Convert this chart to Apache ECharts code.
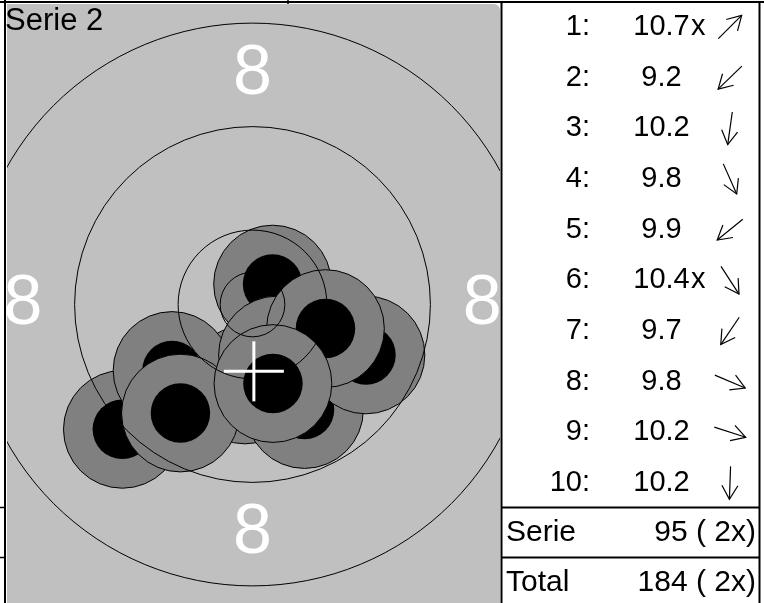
<!DOCTYPE html>
<html><head><meta charset="utf-8">
<script src="https://cdn.jsdelivr.net/npm/echarts@6/dist/echarts.min.js"></script>
<style>html,body{margin:0;padding:0;background:#fff;}#c{width:764px;height:603px;}</style>
</head><body><div id="c"></div>
<script>
// ---------- data ----------
const seriesTitle = 'Serie 2';
const shotNo = [1, 2, 3, 4, 5, 6, 7, 8, 9, 10];
const shotScore = ['10.7', '9.2', '10.2', '9.8', '9.9', '10.4', '9.7', '9.8', '10.2', '10.2'];
const shotInnerTen = [true, false, false, false, false, true, false, false, false, false];
// shot centres in mm from the target centre (x right, y up)
const shotX = [1.55, -10.06, -0.58, 4.02, -6.22, 1.93, -5.57, 8.77, 5.64, 1.58];
const shotY = [1.58, -9.65, -6.22, -8.12, -5.10, -3.90, -8.39, -3.90, -1.86, -6.11];
// direction arrows in the list (degrees, screen: 0 = right, 90 = down)
const arrowDeg = [-45, 136, 98, 66, 141, 57, 124, 23, 18, 92];
// ring radii in mm: 8 ring, 9 ring, 10 ring, inner ten
const ringRadius = [21.75, 13.75, 5.75, 2.5];
const ringLabel = ['8', '8', '8', '8'];
const ringLabelAngle = [90, 0, 180, 270];
const ringLabelRadius = 17.75;
const summaryLabel = ['Serie', 'Total'];
const summaryValue = ['95 ( 2x)', '184 ( 2x)'];
const pelletRadius = 2.3;
const shotRadius = 4.55;

// ---------- layout ----------
const PX = 12.9375;               // px per mm
const CX = 252.5, CY = 304.5;     // target centre in px
const G = {left: 7, top: 4, width: 493, height: 599};
const xMin = (G.left - CX) / PX, xMax = (G.left + G.width - CX) / PX;
const yMax = (CY - G.top) / PX, yMin = (CY - G.top - G.height) / PX;
const FONT = '"Liberation Sans", Arial, sans-serif';

const meanX = shotX.reduce((a, b) => a + b, 0) / shotX.length;
const meanY = shotY.reduce((a, b) => a + b, 0) / shotY.length;

const graphics = [];
// grey target panel
graphics.push({type: 'rect', z: -10, shape: {x: G.left, y: G.top, width: G.width, height: G.height, r: [0, 6, 0, 0]}, style: {fill: '#c0c0c0'}});
// page lines
function line(x1, y1, x2, y2, w) {
  graphics.push({type: 'line', z: 50, shape: {x1, y1, x2, y2}, style: {stroke: '#000', lineWidth: w || 2}});
}
line(0, 2, 764, 2, 2);
line(5, 0, 5, 603, 2);
line(0, 507.5, 5, 507.5, 1.5);
line(0, 557.5, 5, 557.5, 1.5);
line(288, 0, 288, 4, 1.5);
// table borders
line(501.5, 2, 501.5, 603, 2);
line(759.5, 2, 759.5, 603, 2);
line(501, 507.5, 760, 507.5, 2);
line(501, 557.5, 760, 557.5, 2);

function text(str, x, y, align, size, color) {
  graphics.push({type: 'text', z: 60, x, y, style: {text: str, fill: color || '#000', font: (size || 29) + 'px ' + FONT, align: align, verticalAlign: 'middle'}});
}
text(seriesTitle, 5, 21, 'left', 31);

const row0 = 27, rowH = 50.65;
shotNo.forEach((n, i) => {
  const y = row0 + i * rowH;
  text(n + ':', 590, y, 'right');
  text(shotScore[i], 661.5, y, 'center');
  if (shotInnerTen[i]) text('x', 691, y, 'left');
  // arrow
  const a = arrowDeg[i] * Math.PI / 180, L = 16.5, H = 16, W = 30 * Math.PI / 180;
  const cx = 730, dx = Math.cos(a), dy = Math.sin(a);
  const tx = cx + dx * L, ty = y + dy * L;
  const pts = [[cx - dx * L, y - dy * L], [tx, ty]];
  graphics.push({type: 'polyline', z: 60, shape: {points: pts}, style: {stroke: '#000', lineWidth: 1.2, fill: null}});
  const back = a + Math.PI;
  graphics.push({type: 'polyline', z: 60, shape: {points: [
    [tx + Math.cos(back - W) * H, ty + Math.sin(back - W) * H], [tx, ty],
    [tx + Math.cos(back + W) * H, ty + Math.sin(back + W) * H]]}, style: {stroke: '#000', lineWidth: 1.2, fill: null}});
});
text(summaryLabel[0], 506, 533, 'left', 30);
text(summaryValue[0], 756, 533, 'right', 30);
text(summaryLabel[1], 506, 583, 'left', 30);
text(summaryValue[1], 756, 583, 'right', 30);

const chart = echarts.init(document.getElementById('c'), null, {renderer: 'canvas'});
chart.setOption({
  animation: false,
  backgroundColor: '#fff',
  grid: {left: G.left, top: G.top, width: G.width, height: G.height, show: false},
  xAxis: {type: 'value', min: xMin, max: xMax, show: false},
  yAxis: {type: 'value', min: yMin, max: yMax, show: false},
  graphic: {elements: graphics},
  series: [
    {
      type: 'custom', name: 'shots', z: 2, clip: true,
      data: shotX.map((x, i) => [x, shotY[i], shotNo[i]]),
      renderItem: (params, api) => {
        const c = api.coord([api.value(0), api.value(1)]);
        const R = api.size([shotRadius, 0])[0];
        const r = api.size([pelletRadius, 0])[0];
        return {type: 'group', children: [
          {type: 'circle', shape: {cx: c[0], cy: c[1], r: R}, style: {fill: '#808080', stroke: '#000', lineWidth: 1}},
          {type: 'circle', shape: {cx: c[0], cy: c[1], r: r}, style: {fill: '#000'}}
        ]};
      }
    },
    {
      type: 'custom', name: 'rings', z: 3, clip: true,
      data: ringRadius.map(r => [0, 0, r]),
      renderItem: (params, api) => {
        const c = api.coord([api.value(0), api.value(1)]);
        const r = api.size([api.value(2), 0])[0];
        return {type: 'circle', shape: {cx: c[0], cy: c[1], r: r}, style: {fill: null, stroke: '#000', lineWidth: 1}};
      }
    },
    {
      type: 'custom', name: 'ringLabels', z: 4, clip: true,
      data: ringLabelAngle.map((a, i) => [ringLabelRadius * Math.cos(a * Math.PI / 180), ringLabelRadius * Math.sin(a * Math.PI / 180), ringLabel[i]]),
      renderItem: (params, api) => {
        const c = api.coord([api.value(0), api.value(1)]);
        return {type: 'text', x: c[0], y: c[1], style: {text: ringLabel[params.dataIndex], fill: '#fff', font: '70px ' + FONT, align: 'center', verticalAlign: 'middle'}};
      }
    },
    {
      type: 'custom', name: 'groupCentre', z: 5, clip: true,
      data: [[meanX, meanY]],
      renderItem: (params, api) => {
        const c = api.coord([api.value(0), api.value(1)]);
        const h = 30;
        return {type: 'group', children: [
          {type: 'line', shape: {x1: c[0] - h, y1: c[1], x2: c[0] + h, y2: c[1]}, style: {stroke: '#fff', lineWidth: 3}},
          {type: 'line', shape: {x1: c[0], y1: c[1] - h, x2: c[0], y2: c[1] + h}, style: {stroke: '#fff', lineWidth: 3}}
        ]};
      }
    }
  ]
});
</script></body></html>
